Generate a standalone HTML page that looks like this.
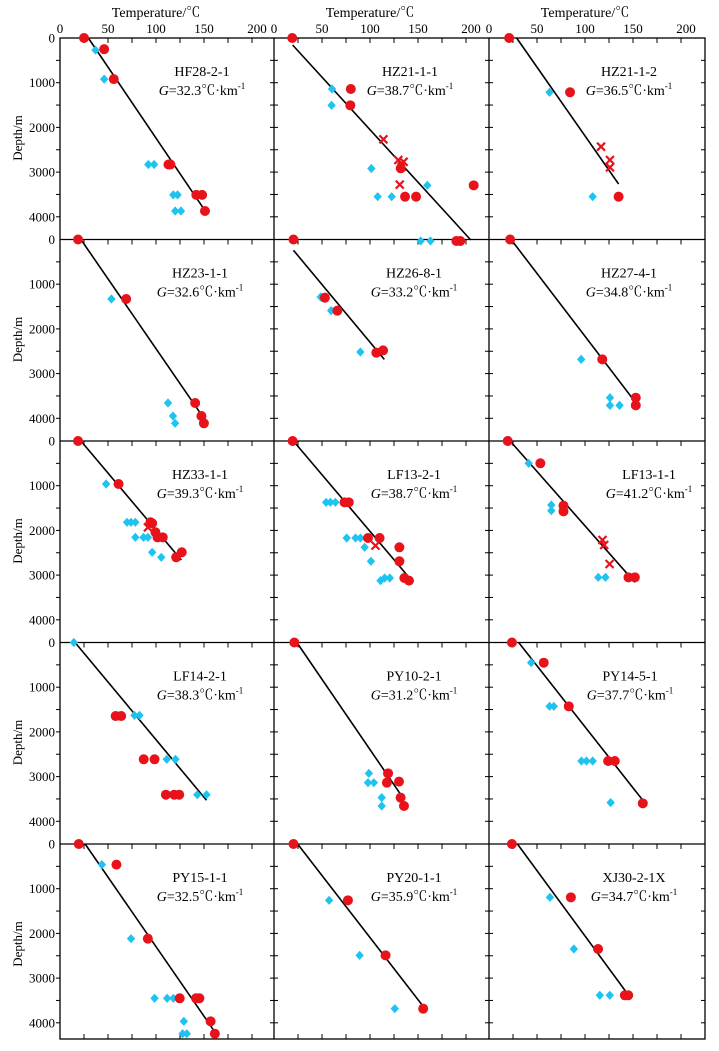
<!DOCTYPE html>
<html><head><meta charset="utf-8">
<style>
html,body{margin:0;padding:0;background:#fff;}
svg{display:block;font-family:"Liberation Serif","Noto Serif CJK SC",serif;}
</style></head>
<body>
<svg id="chart" width="719" height="1051" viewBox="0 0 719 1051" xmlns="http://www.w3.org/2000/svg"></svg>
<script>
const wellNames = ["HF28-2-1","HZ21-1-1","HZ21-1-2","HZ23-1-1","HZ26-8-1","HZ27-4-1","HZ33-1-1","LF13-2-1","LF13-1-1","LF14-2-1","PY10-2-1","PY14-5-1","PY15-1-1","PY20-1-1","XJ30-2-1X"];
const gradients = ["32.3","38.7","36.5","32.6","33.2","34.8","39.3","38.7","41.2","38.3","31.2","37.7","32.5","35.9","34.7"];
const tempTicks = [0,50,100,150,200];
const depthTicks = [0,1000,2000,3000,4000];
const redPoints = [
 [[25,0],[46,250],[56,920],[113,2830],[115,2830],[142,3510],[148,3510],[151,3870]],
 [[19,0],[80,1141],[79.5,1506],[132,2915],[136.5,3550],[148,3550],[208,3296],[190,4540],[194,4540]],
 [[21,0],[84.4,1215],[135,3550]],
 [[18.8,0],[68.9,1331],[140.8,3658],[147.3,3949],[149.9,4112]],
 [[20.3,0],[53,1301],[66,1592],[106.6,2532],[113.6,2480]],
 [[22,0],[118,2681],[152.9,3539],[152.9,3711]],
 [[18.8,0],[61,962],[94.2,1819],[96,1840],[99.4,2040],[101.6,2155],[107,2155],[121,2602],[126.8,2490]],
 [[19.4,0],[73.5,1372],[77.9,1372],[97.9,2170],[110,2170],[130.6,2378],[130.6,2691],[135.8,3065],[140.6,3124]],
 [[19.5,0],[53.5,499],[77.6,1447],[77.6,1574],[145.3,3050],[151.9,3050]],
 [[58,1645],[63.7,1645],[87.2,2613],[98.5,2613],[110.3,3405],[119,3405],[124.2,3405]],
 [[21.2,0],[118.8,2927],[117.6,3136],[130.2,3113],[131.9,3471],[135.4,3657]],
 [[23.9,0],[57,452],[83.1,1428],[124.1,2651],[131,2651],[160.2,3598]],
 [[19.6,0],[58.8,462],[91.5,2118],[124.7,3452],[141.7,3452],[145.2,3452],[156.9,3967],[161.3,4244]],
 [[20.3,0],[77,1260],[116.2,2491],[155.4,3684]],
 [[23.9,0],[85.3,1193],[113.6,2349],[141.5,3385],[145,3385]]
];
const cyanPoints = [
 [[37,270],[46,920],[92,2830],[98,2830],[118,3510],[122.5,3510],[120,3870],[126,3870]],
 [[60.4,1141],[60,1506],[101.4,2920],[108,3550],[122.6,3550],[159.7,3296],[152.8,4540],[163,4540]],
 [[63,1215],[108,3550]],
 [[53.6,1331],[112.5,3658],[117.7,3949],[119.9,4112]],
 [[48.6,1286],[59.5,1592],[90,2517],[113,2480]],
 [[96,2681],[126,3539],[126,3711],[136,3711]],
 [[48,962],[69.8,1819],[74,1819],[78.5,1819],[78.5,2155],[87,2155],[91.6,2155],[96,2490],[105.5,2602]],
 [[54.3,1372],[58.7,1372],[63.9,1372],[75.7,2170],[84.9,2170],[90,2170],[94.4,2378],[101,2691],[111,3124],[115.3,3065],[120.6,3065]],
 [[41.3,499],[64.9,1432],[64.9,1559],[113.8,3050],[121.3,3050]],
 [[14.4,0],[77.6,1630],[82.8,1630],[111.2,2613],[120.3,2613],[143,3405],[152.6,3405]],
 [[98.8,2927],[97.9,3136],[104,3136],[112.2,3471],[112.2,3657]],
 [[43.9,452],[63.1,1428],[67.5,1428],[96.3,2651],[101.5,2651],[108,2651],[126.7,3583]],
 [[43.6,462],[74,2118],[98.5,3452],[111.6,3452],[118.1,3452],[129,3967],[127.7,4244],[132.1,4244]],
 [[57.4,1260],[89.2,2491],[125.8,3684]],
 [[63.5,1193],[88.4,2349],[115.4,3385],[125.8,3385]]
];
const crossPoints = [
 [],
 [[114,2267],[129.5,2730],[135,2770],[133,2880],[131,3280]],
 [[116.7,2431],[126,2730],[126,2895]],
 [],[],[],
 [[91.6,1931]],
 [[105.7,2341]],
 [[118.2,2215],[120,2326],[125.6,2752]],
 [],[],[],[],[],[]
];
const lineStart = [[29.5,0],[19.4,157],[28.8,0],[21.8,0],[20.3,242],[23,0],[21.8,0],[20.2,0],[22,0],[15.7,0],[23.8,0],[30.9,0],[26.2,0],[24.6,0],[29.6,0]];
const lineEnd = [[151,3860],[205,4519],[135,3266],[147.3,3920],[114.9,2681],[153.7,3674],[126.4,2662],[140.6,3050],[151.9,3161],[152.6,3530],[135.4,3508],[160.2,3530],[160.4,4176],[155.4,3632],[142.9,3311]];

const NS="http://www.w3.org/2000/svg";
const svg=document.getElementById('chart');
const colX=[60,274,489], rightX=705;
const rowY=[38,239.5,441,642.5,844], bottomY=1039;
const pxPerDeg=0.96, pxPerM=0.0447;
const labelOff=[142,136,140,140,140,140,140,140,160,140,140,141,140,140,145];
function el(tag,attrs,parent){const e=document.createElementNS(NS,tag);for(const k in attrs)e.setAttribute(k,attrs[k]);(parent||svg).appendChild(e);return e;}
function xScale(c,t){return colX[c]+t*pxPerDeg;}
function yScale(r,d){return rowY[r]+d*pxPerM;}

// frame lines
const frame=el('g',{});


el('rect',{x:colX[0],y:rowY[0],width:rightX-colX[0],height:bottomY-rowY[0],fill:'none',stroke:'#000','stroke-width':1.3},frame);
for(let r=1;r<5;r++) el('line',{x1:colX[0],x2:rightX,y1:rowY[r],y2:rowY[r],stroke:'#000','stroke-width':1.3},frame);
for(let c=1;c<3;c++) el('line',{x1:colX[c],x2:colX[c],y1:rowY[0],y2:bottomY,stroke:'#000','stroke-width':1.3},frame);

// ticks
const ticks=el('g',{stroke:'#000','stroke-width':1});


for(let r=0;r<5;r++){
  const yb = r<4?rowY[r+1]:bottomY;
  for(let c=0;c<3;c++){
    for(let t=25;t<222;t+=25){const x=xScale(c,t);el('line',{x1:x,x2:x,y1:rowY[r],y2:rowY[r]+5},ticks);}
    if(r===4) for(let t=25;t<222;t+=25){const x=xScale(c,t);el('line',{x1:x,x2:x,y1:bottomY,y2:bottomY-5},ticks);}
  }
  for(let d=0;d<=4500;d+=500){
    const y=yScale(r,d); if(y>yb-1) continue; if(d===0) continue;
    el('line',{x1:colX[0]-4,x2:colX[0],y1:y,y2:y},ticks);
    el('line',{x1:colX[1]-4,x2:colX[1]+4,y1:y,y2:y},ticks);
    el('line',{x1:colX[2]-4,x2:colX[2]+4,y1:y,y2:y},ticks);
    el('line',{x1:rightX-4,x2:rightX,y1:y,y2:y},ticks);
  }
}

// top axis labels
for(let c=0;c<3;c++){
  const t=el('text',{x:(colX[c]+xScale(c,100)+ (c===0?0:0)),y:17,'font-size':14,'text-anchor':'middle'});
  
  
  t.setAttribute('x',xScale(c,100));
  t.textContent='Temperature/℃';
  tempTicks.forEach(v=>{
    const tx=el('text',{x:xScale(c,v)+(v===200?5:0),y:33,'font-size':13,'text-anchor':'middle'});
    
    
    tx.textContent=v;
  });
}
// y labels
for(let r=0;r<5;r++){
  depthTicks.forEach(v=>{
    const t=el('text',{x:55,y:yScale(r,v)+4.5,'font-size':13,'text-anchor':'end'});
    
    
    t.textContent=v;
  });
  const cy=rowY[r]+100;
  const yt=el('text',{x:0,y:0,'font-size':13,'text-anchor':'middle',transform:`translate(22,${cy}) rotate(-90)`});
  
  
  yt.textContent='Depth/m';
}

// panels
for(let i=0;i<15;i++){
  const r=Math.floor(i/3), c=i%3;
  const g=el('g',{});
  
  
  const ln=el('line',{x1:xScale(c,lineStart[i][0]),y1:yScale(r,lineStart[i][1]),x2:xScale(c,lineEnd[i][0]),y2:yScale(r,lineEnd[i][1]),stroke:'#000','stroke-width':1.6},g);
  
  
  cyanPoints[i].forEach(p=>{
    const x=xScale(c,p[0]),y=yScale(r,p[1]);
    const d=el('polygon',{points:`${x},${y-4.6} ${x+4.2},${y} ${x},${y+4.6} ${x-4.2},${y}`,fill:'#1fc3f0'},g);
    
    
  });
  redPoints[i].forEach(p=>{
    const cc=el('circle',{cx:xScale(c,p[0]),cy:yScale(r,p[1]),r:5,fill:'#e8121a'},g);
    
    
  });
  crossPoints[i].forEach(p=>{
    const x=xScale(c,p[0]),y=yScale(r,p[1]);
    const k=el('path',{d:`M${x-4},${y-4}L${x+4},${y+4}M${x+4},${y-4}L${x-4},${y+4}`,stroke:'#e8121a','stroke-width':2.2,fill:'none'},g);
    
    
  });
  const nx=colX[c]+labelOff[i];
  const nt=el('text',{x:nx,y:rowY[r]+38,'font-size':14,'text-anchor':'middle'},g);
  
  
  nt.textContent=wellNames[i];
  const gt=el('text',{x:nx,y:rowY[r]+57,'font-size':14,'text-anchor':'middle'},g);
  
  
  gt.innerHTML=`<tspan font-style="italic">G</tspan>=${gradients[i]}℃·km<tspan font-size="9" dy="-6">-1</tspan>`;
}
</script>
</body></html>
